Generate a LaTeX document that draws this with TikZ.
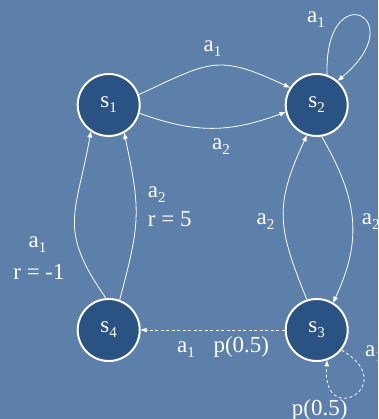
\documentclass[tikz,border=0pt]{standalone}
\usepackage{fontspec}
\setmainfont{Liberation Serif}
\usetikzlibrary{arrows.meta}
\definecolor{bgblue}{RGB}{92,128,170}
\definecolor{nodeblue}{RGB}{42,83,132}
\newcommand{\lowsub}[1]{\raisebox{-5pt}{\fontsize{15}{15}\selectfont #1}}
\begin{document}
\begin{tikzpicture}[x=1pt,y=1pt,
  state/.style={circle,draw=white,line width=2pt,fill=nodeblue,minimum size=62pt,inner sep=0pt,text=white,font=\fontsize{23}{26}\selectfont},
  lbl/.style={text=white,inner sep=0pt,font=\fontsize{23}{26}\selectfont},
  conn/.style={draw=white,line width=0.8pt,-{Triangle[length=6pt,width=4.5pt]}},
  dconn/.style={conn,dash pattern=on 3pt off 2.5pt}]
\useasboundingbox (0,0) rectangle (378,419);
\clip (0,0) rectangle (378,419);
\fill[bgblue] (0,0) rectangle (378,419);

\node[state] (s1) at (108.7,314) {s\lowsub{1}};
\node[state] (s2) at (316.7,314) {s\lowsub{2}};
\node[state] (s3) at (316.7,89) {s\lowsub{3}};
\node[state] (s4) at (108.7,89) {s\lowsub{4}};

\draw[conn] (s1.19) to[out=25,in=155,distance=80pt] (s2.147);
\draw[conn] (s1.-15) to[out=-20,in=-160,distance=60pt] (s2.193);
\draw[conn] (s2.71) to[out=92,in=40,distance=100pt] (s2.49);
\draw[conn] (s4.95) to[out=125,in=-100,distance=85pt] (s1.236);
\draw[conn] (s4.70) to[out=75,in=-78,distance=80pt] (s1.-61);
\draw[conn] (s3.108) to[out=112,in=-115,distance=78pt] (s2.252);
\draw[conn] (s2.-81) to[out=-60,in=65,distance=71pt] (s3.59);
\draw[dconn] (s3) -- (s4);
\draw[dconn] (s3.-39) to[out=-30,in=-95,distance=70pt] (s3.-71);

\node[lbl,anchor=base] (l12a) at (212.5,367) {a\lowsub{1}};
\node[lbl,anchor=base] (l12b) at (221,269) {a\lowsub{2}};
\node[lbl,anchor=base] (l22) at (316,396) {a\lowsub{1}};
\node[lbl,anchor=base] (l41a) at (37.5,171) {a\lowsub{1}};
\node[lbl,anchor=base] (l41r) at (39,139) {r = -1};
\node[lbl,anchor=base west] (l41b) at (147.7,221) {a\lowsub{2}};
\node[lbl,anchor=base west] (l41s) at (147.7,192) {r = 5};
\node[lbl,anchor=base] (l32) at (265.5,194) {a\lowsub{2}};
\node[lbl,anchor=base west] (l23) at (361.7,194) {a\lowsub{2}};
\node[lbl,anchor=base west] (l34) at (177,66) {a\lowsub{1}\hspace{18.6pt}p(0.5)};
\node[lbl,anchor=base west] (l33a) at (365,62) {a\lowsub{1}};
\node[lbl,anchor=base west] (l33p) at (291.7,4) {p(0.5)};
\end{tikzpicture}
\end{document}
